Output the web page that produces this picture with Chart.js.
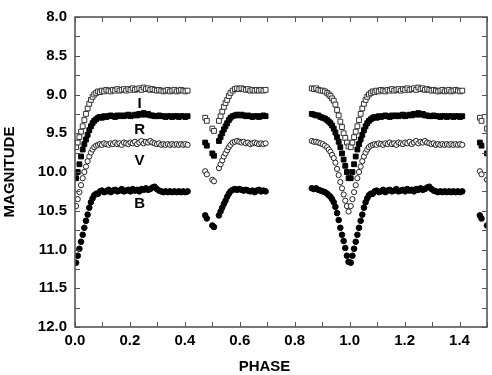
<!DOCTYPE html>
<html><head><meta charset="utf-8">
<script src="https://cdn.jsdelivr.net/npm/chart.js@4/dist/chart.umd.min.js"></script>
<style>html,body{margin:0;padding:0;background:#fff}#wrap{width:492px;height:375px}</style>
</head><body><div id="wrap"><canvas id="c" width="492" height="375"></canvas></div>
<script>
// ---- data (phase-folded light curve, drawn at phase and phase+1) ----
const bands = ['I', 'R', 'V', 'B'];
const phaseA = [0.004,0.010,0.016,0.022,0.028,0.034,0.040,0.046,0.052,0.058,0.064,0.070,0.077,0.084,0.091,0.098,0.106,0.114,0.122,0.130,0.138,0.146,0.154,0.162,0.170,0.178,0.186,0.194,0.202,0.210,0.218,0.226,0.234,0.242,0.250,0.258,0.266,0.274,0.282,0.290,0.298,0.306,0.314,0.322,0.330,0.338,0.346,0.354,0.362,0.370,0.378,0.386,0.394,0.402,0.410];
const phaseB = [0.474,0.480,0.500,0.506,0.524,0.530,0.536,0.542,0.548,0.554,0.560,0.566,0.574,0.582,0.590,0.598,0.606,0.614,0.622,0.630,0.638,0.646,0.654,0.662,0.670,0.678,0.686,0.694];
const phaseC = [0.862,0.870,0.878,0.886,0.894,0.902,0.910,0.918,0.924,0.930,0.936,0.942,0.948,0.954,0.960,0.966,0.972,0.978,0.984,0.990,0.996];

const magI_A = [9.68,9.62,9.55,9.48,9.41,9.33,9.25,9.18,9.12,9.07,9.03,9.00,8.98,8.96,8.97,8.95,8.96,8.94,8.95,8.96,8.94,8.95,8.93,8.95,8.94,8.93,8.95,8.93,8.94,8.92,8.94,8.93,8.92,8.94,8.91,8.93,8.92,8.94,8.93,8.94,8.95,8.94,8.95,8.96,8.95,8.94,8.96,8.95,8.94,8.96,8.95,8.94,8.95,8.96,8.95];
const magR_A = [10.08,10.00,9.90,9.80,9.71,9.64,9.58,9.52,9.46,9.41,9.37,9.34,9.32,9.30,9.29,9.30,9.28,9.29,9.28,9.27,9.28,9.29,9.27,9.28,9.27,9.28,9.27,9.26,9.28,9.27,9.26,9.27,9.25,9.26,9.24,9.26,9.25,9.27,9.27,9.28,9.28,9.27,9.28,9.28,9.29,9.28,9.28,9.29,9.28,9.28,9.29,9.28,9.28,9.29,9.28];
const magV_A = [10.44,10.35,10.26,10.17,10.08,10.00,9.93,9.86,9.80,9.75,9.71,9.68,9.66,9.65,9.64,9.65,9.63,9.64,9.65,9.63,9.64,9.62,9.64,9.63,9.65,9.62,9.63,9.64,9.62,9.63,9.61,9.64,9.62,9.60,9.63,9.61,9.62,9.60,9.62,9.63,9.64,9.63,9.65,9.64,9.65,9.64,9.65,9.64,9.65,9.64,9.65,9.64,9.65,9.64,9.65];
const magB_A = [11.17,11.08,10.99,10.90,10.81,10.72,10.63,10.55,10.46,10.39,10.34,10.30,10.28,10.28,10.25,10.24,10.26,10.25,10.23,10.26,10.24,10.23,10.25,10.24,10.22,10.25,10.24,10.23,10.25,10.22,10.24,10.23,10.25,10.22,10.23,10.21,10.23,10.22,10.20,10.19,10.22,10.24,10.25,10.26,10.25,10.26,10.25,10.26,10.25,10.26,10.25,10.26,10.25,10.26,10.25];

const magI_B = [9.30,9.34,9.44,9.47,9.34,9.28,9.22,9.16,9.11,9.07,9.02,8.98,8.95,8.93,8.92,8.93,8.92,8.93,8.94,8.93,8.95,8.94,8.95,8.94,8.95,8.94,8.95,8.94];
const magR_B = [9.62,9.66,9.76,9.79,9.60,9.55,9.50,9.45,9.41,9.37,9.33,9.30,9.28,9.27,9.26,9.27,9.26,9.27,9.28,9.27,9.28,9.29,9.28,9.28,9.29,9.28,9.27,9.28];
const magV_B = [9.99,10.03,10.10,10.12,9.95,9.90,9.85,9.80,9.76,9.72,9.68,9.65,9.62,9.61,9.60,9.61,9.62,9.61,9.63,9.62,9.64,9.63,9.62,9.63,9.64,9.63,9.64,9.63];
const magB_B = [10.56,10.60,10.69,10.71,10.56,10.51,10.46,10.41,10.37,10.32,10.28,10.25,10.23,10.22,10.23,10.22,10.23,10.24,10.23,10.24,10.25,10.24,10.26,10.24,10.23,10.25,10.24,10.25];

const magI_C = [8.92,8.93,8.92,8.94,8.95,8.95,8.96,8.98,9.00,9.02,9.05,9.08,9.13,9.20,9.27,9.35,9.42,9.50,9.56,9.62,9.67];
const magR_C = [9.25,9.26,9.27,9.27,9.29,9.30,9.31,9.33,9.35,9.37,9.40,9.44,9.49,9.55,9.61,9.68,9.76,9.84,9.92,10.00,10.08];
const magV_C = [9.60,9.61,9.61,9.62,9.63,9.64,9.66,9.68,9.71,9.74,9.78,9.82,9.88,9.96,10.04,10.13,10.21,10.29,10.37,10.44,10.51];
const magB_C = [10.21,10.22,10.21,10.23,10.24,10.25,10.26,10.28,10.30,10.32,10.35,10.39,10.45,10.53,10.62,10.72,10.81,10.89,10.98,11.08,11.16];

const xMin = 0, xMax = 1.5, xStep = 0.1;
const yMin = 8, yMax = 12, yStep = 0.25;

// ---- build ----
function pts(ph, mags, shift) {
  return ph.map((p, i) => ({ x: +(p + shift).toFixed(3), y: mags[i] })).filter(d => d.x <= xMax);
}
function series(a, b, c) {
  return [].concat(pts(phaseA, a, 0), pts(phaseB, b, 0), pts(phaseC, c, 0), pts(phaseA, a, 1), pts(phaseB, b, 1));
}
const seriesData = {
  I: series(magI_A, magI_B, magI_C),
  R: series(magR_A, magR_B, magR_C),
  V: series(magV_A, magV_B, magV_C),
  B: series(magB_A, magB_B, magB_C)
};
const styles = {
  I: { pointStyle: 'rect', pointRadius: 3.4, backgroundColor: '#fff', borderColor: '#333', pointBorderWidth: 1 },
  R: { pointStyle: 'rect', pointRadius: 3.4, backgroundColor: '#000', borderColor: '#000', pointBorderWidth: 1 },
  V: { pointStyle: 'circle', pointRadius: 2.6, backgroundColor: '#fff', borderColor: '#222', pointBorderWidth: 1 },
  B: { pointStyle: 'circle', pointRadius: 2.8, backgroundColor: '#000', borderColor: '#000', pointBorderWidth: 1 }
};
const labelPhase = 0.235;
const labelMag = { I: 9.12, R: 9.45, V: 9.85, B: 10.41 };
const FONT = '"Liberation Sans", Arial, Helvetica, sans-serif';

const decor = {
  id: 'decor',
  afterDraw(chart) {
    const { ctx, chartArea: a, scales: { x, y } } = chart;
    ctx.save();
    ctx.strokeStyle = '#555';
    ctx.lineWidth = 1;
    ctx.beginPath();
    x.ticks.forEach(t => {
      const px = Math.round(x.getPixelForValue(t.value)) + 0.5;
      ctx.moveTo(px, a.bottom); ctx.lineTo(px, a.bottom - 5);
      ctx.moveTo(px, a.top); ctx.lineTo(px, a.top + 5);
    });
    y.ticks.forEach(t => {
      const py = Math.round(y.getPixelForValue(t.value)) + 0.5;
      ctx.moveTo(a.left, py); ctx.lineTo(a.left + 5, py);
      ctx.moveTo(a.right, py); ctx.lineTo(a.right - 5, py);
    });
    ctx.stroke();
    ctx.lineWidth = 1.6;
    ctx.strokeStyle = '#555';
    ctx.strokeRect(a.left, a.top, a.right - a.left, a.bottom - a.top);
    ctx.fillStyle = '#000';
    ctx.font = 'bold 15px ' + FONT;
    ctx.textAlign = 'center';
    ctx.textBaseline = 'middle';
    bands.forEach(b => ctx.fillText(b, x.getPixelForValue(labelPhase), y.getPixelForValue(labelMag[b])));
    ctx.fillText('PHASE', a.left + 0.46 * (a.right - a.left), 367);
    ctx.restore();
  }
};

new Chart(document.getElementById('c'), {
  type: 'scatter',
  data: {
    datasets: bands.map(b => Object.assign({ label: b, data: seriesData[b], showLine: false }, styles[b]))
  },
  options: {
    responsive: false,
    animation: false,
    events: [],
    layout: { padding: { top: 7, right: 1, left: 0, bottom: 0 } },
    plugins: { legend: { display: false }, tooltip: { enabled: false } },
    scales: {
      x: {
        type: 'linear', min: xMin, max: xMax,
        grid: { display: false, drawTicks: false },
        border: { display: false },
        ticks: {
          stepSize: xStep, autoSkip: false, maxRotation: 0, padding: 5,
          color: '#000', font: { family: FONT, size: 15, weight: 'bold' },
          callback: v => (Math.round(v * 10) % 2 === 0 && v < 1.45) ? v.toFixed(1) : ''
        },
        afterFit: s => { s.height = 48; }
      },
      y: {
        type: 'linear', min: yMin, max: yMax, reverse: true,
        grid: { display: false, drawTicks: false },
        border: { display: false },
        ticks: {
          stepSize: yStep, autoSkip: false, padding: 8,
          color: '#000', font: { family: FONT, size: 15, weight: 'bold' },
          callback: v => Math.abs(v * 2 - Math.round(v * 2)) < 1e-6 ? v.toFixed(1) : ''
        },
        title: { display: true, text: 'MAGNITUDE', color: '#000', font: { family: FONT, size: 15, weight: 'bold' }, padding: { top: 1, bottom: 0 } },
        afterFit: s => { s.width = 75; }
      }
    }
  },
  plugins: [decor]
});
</script>
</body></html>
